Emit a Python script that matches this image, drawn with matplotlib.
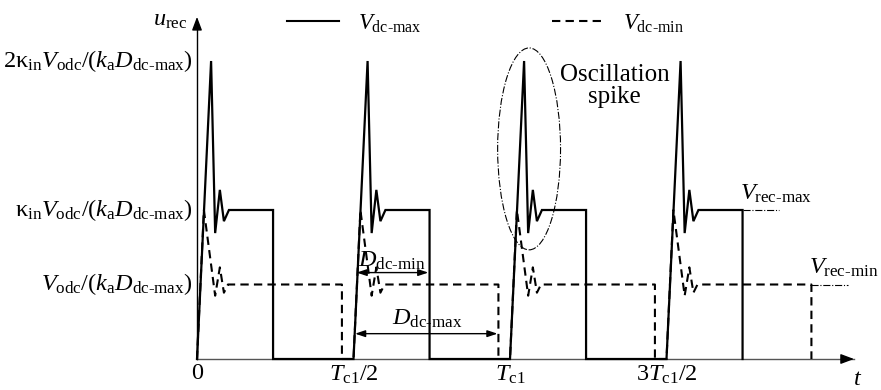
import numpy as np
import matplotlib.pyplot as plt
from matplotlib.patches import Ellipse
from matplotlib.lines import Line2D

plt.rcParams['font.family'] = ['Liberation Serif', 'DejaVu Serif']
plt.rcParams['mathtext.fontset'] = 'custom'
plt.rcParams['mathtext.rm'] = 'Liberation Serif'
plt.rcParams['mathtext.it'] = 'Liberation Serif:italic'

# one switching period of the rectifier voltage (time in T_c1, level in V_odc/(k_a D_dc-max))
t_max = [0.0, 0.045, 0.058, 0.073, 0.086, 0.102, 0.243, 0.243]
u_max = [0.0, 4.0, 1.69, 2.27, 1.85, 2.0, 2.0, 0.0]
t_min = [0.0, 0.022, 0.058, 0.073, 0.086, 0.099, 0.463, 0.463]
u_min = [0.0, 2.0, 0.85, 1.23, 0.89, 1.0, 1.0, 0.0]
pulse_starts = [0.0, 0.5, 1.0, 1.5]

level_vals = [1.0, 2.0, 4.0]
level_labels = [r'$V_{\mathrm{odc}}/(k_{\mathrm{a}}D_{\text{dc-max}})$',
                r'$\mathrm{κ}_{\mathrm{in}}V_{\mathrm{odc}}/(k_{\mathrm{a}}D_{\text{dc-max}})$',
                r'$2\mathrm{κ}_{\mathrm{in}}V_{\mathrm{odc}}/(k_{\mathrm{a}}D_{\text{dc-max}})$']
xtick_vals = [0.0, 0.5, 1.0, 1.5]
xtick_labels = ['0', r'$T_{\mathrm{c1}}/2$', r'$T_{\mathrm{c1}}$', r'$3T_{\mathrm{c1}}/2$']

fs = 17.5
fig = plt.figure(figsize=(8.81, 3.90), dpi=100)
ax = fig.add_axes([0, 0, 1, 1])
ax.set_xlim(-0.6294, 2.1853)
ax.set_ylim(-0.4161, 4.8188)
ax.axis('off')

# waveforms
ts, us, td, ud = [], [], [], []
for s in pulse_starts:
    ts += [s + t for t in t_max]
    us += u_max
    td += [s + t for t in t_min]
    ud += u_min
ax.plot(td, ud, color='black', lw=1.5, ls=(0, (4, 2.5)), solid_joinstyle='miter')
ax.plot(ts, us, color='black', lw=1.6, solid_joinstyle='miter')

# axes with arrows
ax.plot([0, 2.1], [0, 0], color='#555555', lw=1.0, zorder=1)
ax.annotate('', xy=(2.108, 0), xytext=(2.05, 0),
            arrowprops=dict(arrowstyle='-|>,head_length=0.8,head_width=0.3', color='black', lw=1.0))
ax.plot([0, 0], [0, 4.5], color='black', lw=1.0)
ax.annotate('', xy=(0, 4.63), xytext=(0, 4.4),
            arrowprops=dict(arrowstyle='-|>,head_length=0.8,head_width=0.3', color='black', lw=1.0))
ax.text(-0.032, 4.55, r'$u_{\mathrm{rec}}$', fontsize=fs, ha='right', va='center')
ax.text(2.11, -0.27, r'$t$', fontsize=fs, ha='center', va='center')

for v, lab in zip(level_vals, level_labels):
    ax.text(-0.013, v, lab, fontsize=fs, ha='right', va='center')
for v, lab in zip(xtick_vals, xtick_labels):
    ax.text(v, -0.06, lab, fontsize=fs, ha='center', va='top')

# legend
handles = [Line2D([], [], color='black', lw=1.5),
           Line2D([], [], color='black', lw=1.5, ls=(0, (4, 2.5)))]
ax.legend(handles, [r'$V_{\text{dc-max}}$', r'$V_{\text{dc-min}}$'], ncol=2, frameon=False,
          loc='center', bbox_to_anchor=(0.551, 0.94), fontsize=fs - 1,
          handlelength=2.3, handletextpad=0.8, columnspacing=5.7)

# oscillation spike marker
ax.add_patch(Ellipse((1.061, 2.82), 0.201, 2.71, fill=False, ls='-.', lw=0.8, color='black'))
ax.text(1.335, 3.66, 'Oscillation\nspike', fontsize=fs + 0.5, ha='center', va='center', linespacing=1.0)

# V_rec levels
ax.plot([1.743, 1.86], [2.0, 2.0], color='black', lw=0.8, ls='-.')
ax.text(1.735, 2.07, r'$V_{\text{rec-max}}$', fontsize=fs, ha='left', va='bottom')
ax.plot([1.963, 2.08], [1.0, 1.0], color='black', lw=0.8, ls='-.')
ax.text(1.955, 1.07, r'$V_{\text{rec-min}}$', fontsize=fs, ha='left', va='bottom')

# duty annotations
ax.annotate('', xy=(0.51, 1.16), xytext=(0.739, 1.16),
            arrowprops=dict(arrowstyle='<|-|>,head_length=0.6,head_width=0.2', color='black', lw=1.0,
                            shrinkA=0, shrinkB=0))
ax.text(0.515, 1.17, r'$D_{\text{dc-min}}$', fontsize=fs, ha='left', va='bottom')
ax.annotate('', xy=(0.505, 0.34), xytext=(0.96, 0.34),
            arrowprops=dict(arrowstyle='<|-|>,head_length=0.6,head_width=0.2', color='black', lw=1.0,
                            shrinkA=0, shrinkB=0))
ax.text(0.735, 0.39, r'$D_{\text{dc-max}}$', fontsize=fs, ha='center', va='bottom')

fig.savefig('out.png', dpi=100)
